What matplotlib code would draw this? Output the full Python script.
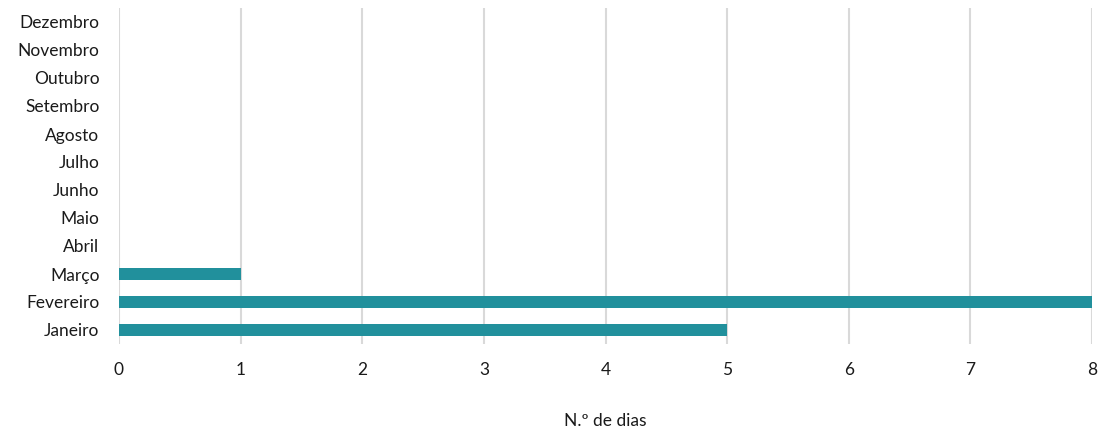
import matplotlib
matplotlib.use("Agg")
import matplotlib.pyplot as plt

plt.rcParams['font.family'] = ['Lato', 'DejaVu Sans']

months = ["Janeiro", "Fevereiro", "Março", "Abril", "Maio", "Junho",
          "Julho", "Agosto", "Setembro", "Outubro", "Novembro", "Dezembro"]
days = [5, 8, 1, 0, 0, 0, 0, 0, 0, 0, 0, 0]
xticks = [0, 1, 2, 3, 4, 5, 6, 7, 8]
xlabel = "N.º de dias"

fig = plt.figure(figsize=(11, 4.32), dpi=100)
ax = fig.add_axes([119/1100, 1 - 344/432, (1092-119)/1100, (344-8)/432])

ax.barh(range(len(months)), days, height=0.42, color="#21909c", zorder=3)
ax.set_xlim(0, 8)
ax.set_ylim(-0.5, len(months) - 0.5)
ax.set_yticks(range(len(months)))
ax.set_yticklabels(months, fontsize=12.5, color="#1a1a1a")
ax.set_xticks(xticks)
ax.set_xticklabels([str(t) for t in xticks], fontsize=12.5, color="#1a1a1a")
ax.tick_params(axis='both', length=0)
ax.tick_params(axis='x', pad=13)
ax.tick_params(axis='y', pad=14)
ax.grid(axis='x', color="#d9d9d9", linewidth=1.5, zorder=0)
for s in ax.spines.values():
    s.set_visible(False)
fig.text((119 + 1092) / 2 / 1100, 1 - 421/432, xlabel, fontsize=12.5,
         color="#1a1a1a", ha='center', va='center')

fig.savefig("out.png", dpi=100)
